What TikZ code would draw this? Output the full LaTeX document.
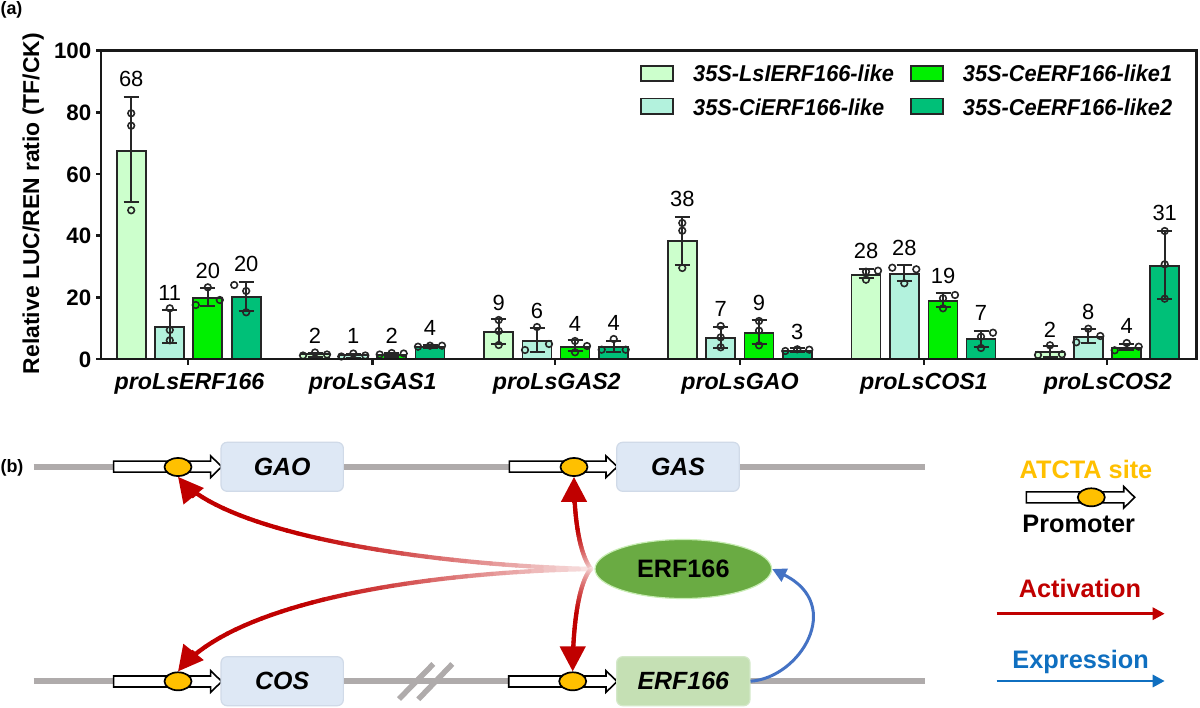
\documentclass[tikz,border=0pt]{standalone}
\usepackage{fontspec}
\setmainfont{Liberation Sans}
\usetikzlibrary{shapes.geometric,arrows.meta,calc}
\definecolor{barA}{HTML}{CCFFCC}
\definecolor{barB}{HTML}{B3F2DD}
\definecolor{barC}{HTML}{00F000}
\definecolor{barD}{HTML}{00C078}
\definecolor{actred}{HTML}{C00000}
\definecolor{sitey}{HTML}{FFC000}
\definecolor{genegray}{HTML}{AFABAB}
\definecolor{exprblue}{HTML}{4472C4}
\definecolor{legblue}{HTML}{0F6FC0}
\definecolor{tfgreen}{HTML}{6AAB43}
\definecolor{tfedge}{HTML}{C8EDB4}
\definecolor{boxblue}{HTML}{DEE8F5}
\definecolor{boxblueedge}{HTML}{D0DAE8}
\definecolor{boxgreen}{HTML}{C5E0B4}
\definecolor{boxgreenedge}{HTML}{D3E8C8}
\newcommand\fs[1]{\fontsize{#1}{#1}\selectfont}
\newcommand\curvept[6]{%
  \coordinate (qab) at ($(#3)!#2!(#4)$);
  \coordinate (qbc) at ($(#4)!#2!(#5)$);
  \coordinate (qcd) at ($(#5)!#2!(#6)$);
  \coordinate (qabc) at ($(qab)!#2!(qbc)$);
  \coordinate (qbcd) at ($(qbc)!#2!(qcd)$);
  \coordinate (#1) at ($(qabc)!#2!(qbcd)$);
}
\newcommand\redlink[4]{%
  \foreach \kk in {0,...,36}{%
    \pgfmathsetmacro\ta{\kk/40}%
    \pgfmathsetmacro\tb{(\kk+1)/40}%
    \pgfmathsetmacro\mx{min(100,8+92*\tb/0.6)}%
    \curvept{pa}{\ta}{#1}{#2}{#3}{#4}
    \curvept{pb}{\tb}{#1}{#2}{#3}{#4}
    \draw[line width=4.3, line cap=round, color=actred!\mx!white] (pa) -- (pb);
  }%
  \draw[actred, line width=4.3, -{Triangle[length=25bp,width=25bp]}] ($(#4)!26bp!(#3)$) -- (#4);
}
\newcommand\promoter[4]{%
  \draw[promo] (#1,#4-5.5) -- (#2,#4-5.5) -- (#2,#4-10.8) -- (#3,#4) -- (#2,#4+10.8) -- (#2,#4+5.5) -- (#1,#4+5.5) -- cycle;
}
\tikzset{
  x=1bp,y=-1bp,
  barbox/.style={draw=black!85,line width=1.9},
  errline/.style={draw=black!85,line width=1.9},
  ptmark/.style={draw=black!85,line width=1.6},
  framebox/.style={draw=black!90,line width=2.8},
  vallab/.style={inner sep=0pt,font=\fs{22}},
  ticklab/.style={inner sep=0pt,anchor=east,font=\bfseries\fs{22.4}},
  grouplab/.style={inner sep=0pt,anchor=base,font=\bfseries\itshape\fs{23.3}},
  leglab/.style={inner sep=0pt,anchor=base west,xscale=.95,transform shape,font=\bfseries\itshape\fs{23}},
  panel/.style={inner sep=0pt,font=\bfseries\fs{18}},
  geneline/.style={draw=genegray,line width=6},
  slashline/.style={draw=genegray,line width=5.5},
  promo/.style={draw=black,fill=white,line width=1.6},
  site/.style={ellipse,draw=black,fill=sitey,line width=1.7,inner sep=0pt,minimum width=27bp,minimum height=18bp},
  genebox/.style={rounded corners=6bp,draw=#1,line width=1.2,inner sep=0pt,minimum height=49bp,font=\bfseries\itshape\fs{25}},
  tfnode/.style={ellipse,draw=tfedge,fill=tfgreen,line width=1.2,inner sep=0pt,minimum width=176.6bp,minimum height=59bp,font=\bfseries\fs{25.3}},
  legtext/.style={inner sep=0pt,anchor=base,font=\bfseries\fs{25.4}},
}
\begin{document}
\begin{tikzpicture}
\useasboundingbox (0,0) rectangle (1200,708);
\fill[white] (0,0) rectangle (1200,708);
\node[panel] (pa) at (11.5,10) {(a)};
\node[panel] (pb) at (12,468) {(b)};
% bars: x/top/errtop/errbot/colour/p1/p2/p3/label/labely
\foreach \bx/\btop/\eu/\ed/\bc/\ax/\ay/\cx/\cy/\dx/\dy/\lab/\ly in {
131.2/150.7/96.7/202.3/barA/0/113.3/0/125.7/0/210.3/68/79.3,
169.8/327/310/342.7/barB/0/308.3/0/330/0/340.3/11/292.7,
207.8/297.7/288/306/barC/0/287.3/-12/305/12/300/20/271,
246.2/297/281.7/310.7/barD/-12/285/0/291/0/312.3/20/264,
315/354/353/357/barA/-12/355.5/0/352.5/12/354.5/2/335.7,
353.3/355/354/358/barB/-12/356.5/0/353.5/12/355.5/1/335.7,
391.7/355/353/357/barC/-12/354.5/0/353/12/353.5/2/335.7,
430/346.7/345/348/barD/-12/346.7/0/345.7/12/345.7/4/328,
498.7/332.3/319.3/344.3/barA/0/320/0/331/0/345/9/302.7,
537/340.7/328.3/352/barB/0/327/-12/350/12/344/6/310.7,
575/347.3/340/351.3/barC/0/341/12/346/0/352.3/4/324,
613.7/347/340.7/352/barD/0/339/-12/349.7/12/349.7/4/322.7,
682.3/241.3/216.7/265/barA/0/223/0/230.7/0/268/38/199,
720.7/337.7/326.7/347.7/barB/0/326/0/337.3/0/347.3/7/309,
759/333/320.3/344.3/barC/0/321/0/330.7/0/345.3/9/303.3,
797.3/350.7/348.3/352/barD/-12/351/0/349.3/12/349.7/3/332,
866/275/268.7/277.7/barA/0/271.7/12/270.7/0/279.7/28/251.3,
904.3/273.7/265/280.7/barB/-12/267.7/12/269.3/0/283.3/28/247.7,
943/301/293.3/306.7/barC/12/295/0/298.3/0/308.3/19/276,
981/339.3/331/346.7/barD/12/332.7/0/336.7/0/348/7/313.3,
1050/352/346/357/barA/0/345.3/-12/355/12/354.3/2/330,
1088.3/336.7/329.3/342.7/barB/0/328.7/-12/342.3/12/336/8/311.7,
1126.7/347.7/344.3/350/barC/0/343/12/346.7/-12/350.3/4/326,
1164.7/265.7/231/298.7/barD/0/231/0/264.3/0/298.7/31/213.3}{
  \draw[barbox,fill=\bc] (\bx-14.5,359) rectangle (\bx+14.5,\btop);
  \draw[errline] (\bx,\eu) -- (\bx,\ed) (\bx-7.5,\eu) -- (\bx+7.5,\eu) (\bx-7.5,\ed) -- (\bx+7.5,\ed);
  \draw[ptmark] (\bx+\ax,\ay) circle (3.3) (\bx+\cx,\cy) circle (3.3) (\bx+\dx,\dy) circle (3.3);
  \node[vallab] at (\bx,\ly) {\lab};
}
% frame and ticks
\draw[framebox] (101,50.5) rectangle (1196.5,359);
\foreach \vv/\yy in {0/359,20/297.3,40/235.6,60/173.9,80/112.2,100/50.5}{
  \draw[framebox] (96,\yy) -- (101,\yy);
  \node[ticklab] at (91.5,\yy+0.7) {\vv};
}
\foreach \gx/\gn/\gc in {188/ERF166/189.5,372.7/GAS1/372.7,555/GAS2/556.8,740/GAO/740,924/COS1/924,1107/COS2/1107.8}{
  \draw[framebox] (\gx,359) -- (\gx,364.5);
  \node[grouplab] at (\gc,389) {proLs\gn};
}
\node[inner sep=0pt,rotate=90,anchor=base,font=\bfseries\fs{23}] (ylab) at (39,203.5) {Relative LUC/REN ratio (TF/CK)};
% legend
\draw[barbox,fill=barA] (641,65.7) rectangle (672.7,81.3);
\draw[barbox,fill=barB] (641,98.5) rectangle (672.7,114.3);
\draw[barbox,fill=barC] (911,65.7) rectangle (942.7,81.3);
\draw[barbox,fill=barD] (911,98.5) rectangle (942.7,114.3);
\node[leglab] (l1) at (693,81.7) {35S-LsIERF166-like};
\node[leglab] (l2) at (693,115.2) {35S-CiERF166-like};
\node[leglab] (l3) at (962.7,81.7) {35S-CeERF166-like1};
\node[leglab] (l4) at (962.7,115.2) {35S-CeERF166-like2};
% gene lines
\coordinate (ta) at (33.5,466.7);
\coordinate (tb) at (925,466.7);
\coordinate (ba) at (33.5,681.3);
\coordinate (bb) at (925,681.3);
\draw[geneline] (ta) -- (tb);
\draw[geneline] (ba) -- (bb);
\coordinate (sl1a) at (433.3,664);
\coordinate (sl1b) at (399,699);
\coordinate (sl2a) at (452.3,664);
\coordinate (sl2b) at (418.3,699.3);
\draw[slashline] (sl1a) -- (sl1b);
\draw[slashline] (sl2a) -- (sl2b);
% promoters
\promoter{113.7}{210.7}{221.7}{466.7}
\promoter{509.3}{606}{617.3}{466.7}
\promoter{113.7}{210.7}{221.7}{681.5}
\promoter{508.7}{606}{617}{681.5}
\node[site] (s1) at (178,467) {};
\node[site] (s2) at (574,467) {};
\node[site] (s3) at (178,681.3) {};
\node[site] (s4) at (572.7,681.3) {};
% genes
\node[genebox=boxblueedge,fill=boxblue,minimum width=122.3bp] (gao) at (282.2,466.8) {GAO};
\node[genebox=boxblueedge,fill=boxblue,minimum width=122.6bp] (gas) at (678,466.8) {GAS};
\node[genebox=boxblueedge,fill=boxblue,minimum width=122.3bp] (cos) at (282.2,681.2) {COS};
\node[genebox=boxgreenedge,fill=boxgreen,minimum width=133.3bp] (erfg) at (683.3,681.2) {ERF166};
\node[tfnode] (erf) at (683.3,569) {ERF166};
% activation
\coordinate (src) at (591,569);
\coordinate (c1a) at (430,565);
\coordinate (c1b) at (225,535);
\redlink{src}{c1a}{c1b}{s1.south}
\coordinate (c2a) at (430,572);
\coordinate (c2b) at (235,600);
\redlink{src}{c2a}{c2b}{s3.north}
\coordinate (c3a) at (581,556);
\coordinate (c3b) at (574,525);
\redlink{src}{c3a}{c3b}{s2.south}
\coordinate (c4a) at (580,580);
\coordinate (c4b) at (572.7,620);
\redlink{src}{c4a}{c4b}{s4.north}
% expression
\draw[exprblue,line width=3,-{Triangle[length=14bp,width=14bp]}] (erfg.east) .. controls (800,678) and (845,605) .. (erf.east);
% legend b
\node[legtext,text=sitey] (atc) at (1086,478.5) {ATCTA site};
\promoter{1026.3}{1123.7}{1134.7}{497.3}
\node[site] (s5) at (1091.3,497.3) {};
\node[legtext,text=black] (pro) at (1078.7,532.5) {Promoter};
\node[legtext,text=actred] (act) at (1080,597.5) {Activation};
\node[legtext,text=legblue] (exr) at (1080.7,668) {Expression};
\coordinate (ra) at (996.7,613.7);
\coordinate (rb) at (1164.7,613.7);
\coordinate (ua) at (996.7,681);
\coordinate (ub) at (1164.7,681);
\draw[actred,line width=3,-{Triangle[length=12bp,width=12bp]}] (ra) -- (rb);
\draw[legblue,line width=3,-{Triangle[length=12bp,width=12bp]}] (ua) -- (ub);
\end{tikzpicture}
\end{document}
